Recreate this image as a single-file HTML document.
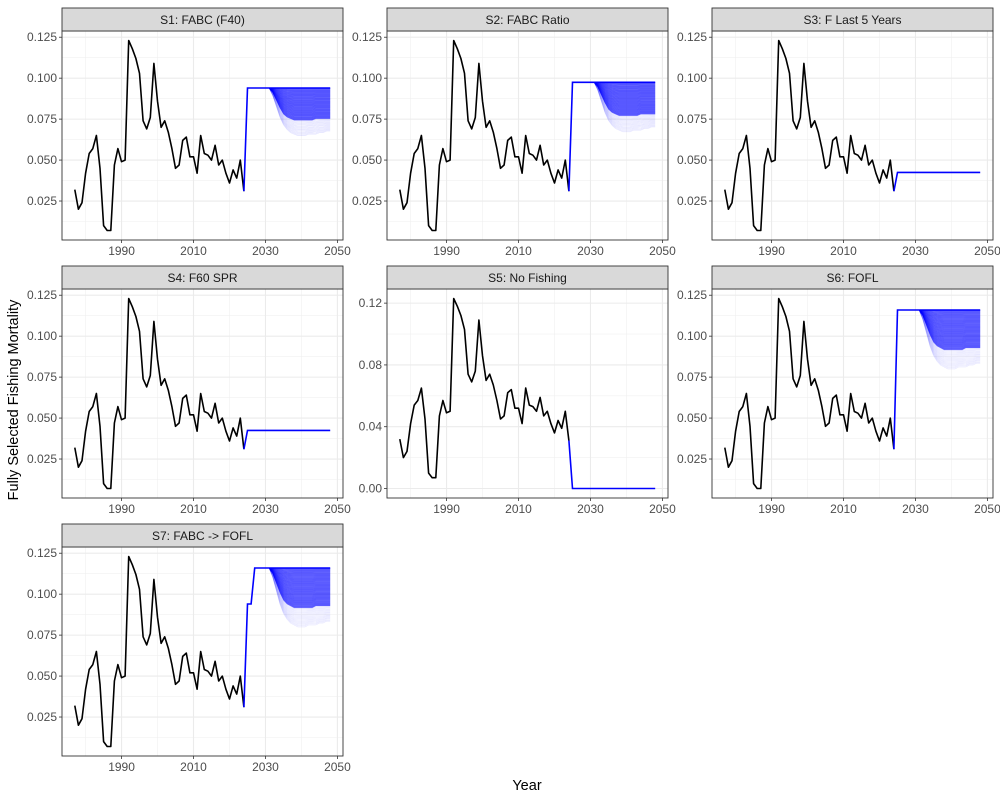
<!DOCTYPE html>
<html><head><meta charset="utf-8">
<style>
body{margin:0;background:#fff;}
svg{font-family:"Liberation Sans",sans-serif;}
</style></head>
<body>
<svg id="chart" width="1000" height="800" viewBox="0 0 1000 800">
<rect width="1000" height="800" fill="#fff"/>
<text x="527" y="790" font-size="14.5" text-anchor="middle" fill="#000">Year</text>
<text transform="translate(18,400) rotate(-90)" font-size="14.5" text-anchor="middle" fill="#000">Fully Selected Fishing Mortality</text>
</svg>
<script>
const histYears = [1977,1978,1979,1980,1981,1982,1983,1984,1985,1986,1987,1988,1989,1990,1991,1992,1993,1994,1995,1996,1997,1998,1999,2000,2001,2002,2003,2004,2005,2006,2007,2008,2009,2010,2011,2012,2013,2014,2015,2016,2017,2018,2019,2020,2021,2022,2023,2024];
const histF = [0.032,0.020,0.024,0.042,0.054,0.057,0.065,0.045,0.010,0.007,0.007,0.047,0.057,0.049,0.050,0.123,0.118,0.112,0.103,0.074,0.069,0.076,0.109,0.086,0.070,0.074,0.067,0.057,0.045,0.047,0.062,0.064,0.052,0.052,0.042,0.065,0.054,0.053,0.050,0.059,0.047,0.050,0.042,0.036,0.044,0.039,0.050,0.031];
const scenarioTitles = ["S1: FABC (F40)","S2: FABC Ratio","S3: F Last 5 Years","S4: F60 SPR","S5: No Fishing","S6: FOFL","S7: FABC -> FOFL"];
const projYears = [2024,2025,2026,2027,2028,2029,2030,2031,2048];
const projS1 = [0.031,0.094,0.094,0.094,0.094,0.094,0.094,0.094,0.094];
const projS2 = [0.031,0.0975,0.0975,0.0975,0.0975,0.0975,0.0975,0.0975,0.0975];
const projS3 = [0.031,0.0425,0.0425,0.0425,0.0425,0.0425,0.0425,0.0425,0.0425];
const projS4 = [0.031,0.0425,0.0425,0.0425,0.0425,0.0425,0.0425,0.0425,0.0425];
const projS5 = [0.031,0,0,0,0,0,0,0,0];
const projS6 = [0.031,0.116,0.116,0.116,0.116,0.116,0.116,0.116,0.116];
const projS7 = [0.031,0.094,0.094,0.116,0.116,0.116,0.116,0.116,0.116];
const hasFan = [true,true,false,false,false,true,true];
const fanYears = [2031,2032,2033,2034,2035,2036,2037,2038,2039,2040,2041,2042,2043,2044,2045,2046,2047,2048];
const fanLowFrac = [1.0,0.95,0.88,0.81,0.76,0.73,0.71,0.70,0.69,0.69,0.69,0.70,0.70,0.70,0.71,0.71,0.72,0.72];
const fanDenseFrac = [1.0,0.97,0.92,0.87,0.83,0.81,0.80,0.79,0.79,0.79,0.79,0.79,0.79,0.80,0.80,0.80,0.80,0.80];
const xTicks = [1990,2010,2030,2050];
const xMinor = [1980,2000,2020,2040];
const yTicksStd = [0.025,0.050,0.075,0.100,0.125];
const yLabelsStd = ["0.025","0.050","0.075","0.100","0.125"];
const yMinorStd = [0.0125,0.0375,0.0625,0.0875,0.1125];
const yTicksS5 = [0,0.04,0.08,0.12];
const yLabelsS5 = ["0.00","0.04","0.08","0.12"];
const yMinorS5 = [0.02,0.06,0.10];

const projs=[projS1,projS2,projS3,projS4,projS5,projS6,projS7];
const NS="http://www.w3.org/2000/svg";
const svg=document.getElementById('chart');
function mk(tag,attrs,parent){const e=document.createElementNS(NS,tag);for(const k in attrs)e.setAttribute(k,attrs[k]);(parent||svg).appendChild(e);return e;}
const colLeft=[62,387,712], plotTop=[31,289,547], W=281, H=209;
const xMin=1973.45,xMax=2051.55;
function slug(s){return s.toLowerCase().replace(/[^a-z0-9]+/g,'-').replace(/^-|-$/g,'');}

scenarioTitles.forEach((title,i)=>{
  const L=colLeft[i%3], T=plotTop[Math.floor(i/3)];
  const proj=projs[i];
  let all=histF.concat(proj);
  if(hasFan[i]){const tgt=proj[proj.length-1];fanLowFrac.forEach(f=>all.push(tgt*f));}
  const dmin=Math.min(...all),dmax=Math.max(...all),pad=(dmax-dmin)*0.05;
  const y0=dmin-pad,y1=dmax+pad;
  const X=v=>L+(v-xMin)/(xMax-xMin)*W;
  const Y=v=>T+H-(v-y0)/(y1-y0)*H;
  const g=mk('g',{});
  
  
  mk('rect',{x:L,y:T,width:W,height:H,fill:'#fff'},g);
  const isS5=i===4;
  const yt=isS5?yTicksS5:yTicksStd, yl=isS5?yLabelsS5:yLabelsStd, ym=isS5?yMinorS5:yMinorStd;
  ym.forEach(v=>{const l=mk('line',{x1:L,x2:L+W,y1:Y(v),y2:Y(v),stroke:'#f0f0f0','stroke-width':0.6},g);});
  xMinor.forEach(v=>{const l=mk('line',{x1:X(v),x2:X(v),y1:T,y2:T+H,stroke:'#f0f0f0','stroke-width':0.6},g);});
  yt.forEach((v,k)=>{
    const l=mk('line',{x1:L,x2:L+W,y1:Y(v),y2:Y(v),stroke:'#ebebeb','stroke-width':1.1},g);
    
    mk('line',{x1:L-3,x2:L,y1:Y(v),y2:Y(v),stroke:'#333','stroke-width':0.8},g);
    const t=mk('text',{x:L-5,y:Y(v)+4,'font-size':12,'text-anchor':'end',fill:'#4d4d4d'},g);
    t.textContent=yl[k];
    
  });
  xTicks.forEach(v=>{
    const l=mk('line',{x1:X(v),x2:X(v),y1:T,y2:T+H,stroke:'#ebebeb','stroke-width':1.1},g);
    
    mk('line',{x1:X(v),x2:X(v),y1:T+H,y2:T+H+3,stroke:'#333','stroke-width':0.8},g);
    const t=mk('text',{x:X(v),y:T+H+15,'font-size':12,'text-anchor':'middle',fill:'#4d4d4d'},g);
    t.textContent=v;
    
  });
  if(hasFan[i]){
    const tgt=proj[proj.length-1];
    const fg=mk('g',{},g);
    
    // dense band fill
    let bd='';
    fanYears.forEach((yr,j)=>{bd+=(j?'L':'M')+X(yr).toFixed(1)+','+Y(tgt).toFixed(1);});
    for(let j=fanYears.length-1;j>=0;j--){bd+='L'+X(fanYears[j]).toFixed(1)+','+Y(tgt*fanDenseFrac[j]).toFixed(1);}
    const band=mk('path',{d:bd+'Z',fill:'#0000ff','fill-opacity':0.55,stroke:'none'},fg);
    
    const N=60;
    for(let k=0;k<=N;k++){
      const t=k/N;
      let d='';
      fanYears.forEach((yr,j)=>{
        const f=t<=0.7?1-(1-fanDenseFrac[j])*(t/0.7):fanDenseFrac[j]+(fanLowFrac[j]-fanDenseFrac[j])*((t-0.7)/0.3);
        d+=(j?'L':'M')+X(yr).toFixed(1)+','+Y(tgt*f).toFixed(1);
      });
      const p=mk('path',{d:d,fill:'none',stroke:'#0000ff','stroke-width':0.6,'stroke-opacity':t<=0.7?0.3:0.1},fg);
      
    }
  }
  const hd=histYears.map((yr,j)=>(j?'L':'M')+X(yr).toFixed(1)+','+Y(histF[j]).toFixed(1)).join('');
  const hp=mk('path',{d:hd,fill:'none',stroke:'#000','stroke-width':1.6,'stroke-linejoin':'round'},g);
  
  const pd=projYears.map((yr,j)=>(j?'L':'M')+X(yr).toFixed(1)+','+Y(proj[j]).toFixed(1)).join('');
  const pp=mk('path',{d:pd,fill:'none',stroke:'#0000ff','stroke-width':1.6},g);
  
  mk('rect',{x:L,y:T,width:W,height:H,fill:'none',stroke:'#333','stroke-width':0.9},g);
  const s=mk('rect',{x:L,y:T-23,width:W,height:23,fill:'#d9d9d9',stroke:'#333','stroke-width':0.9},g);
  
  const st=mk('text',{x:L+W/2,y:T-7,'font-size':12,'text-anchor':'middle',fill:'#1a1a1a'},g);
  st.textContent=title;
  
});
</script>
</body></html>
